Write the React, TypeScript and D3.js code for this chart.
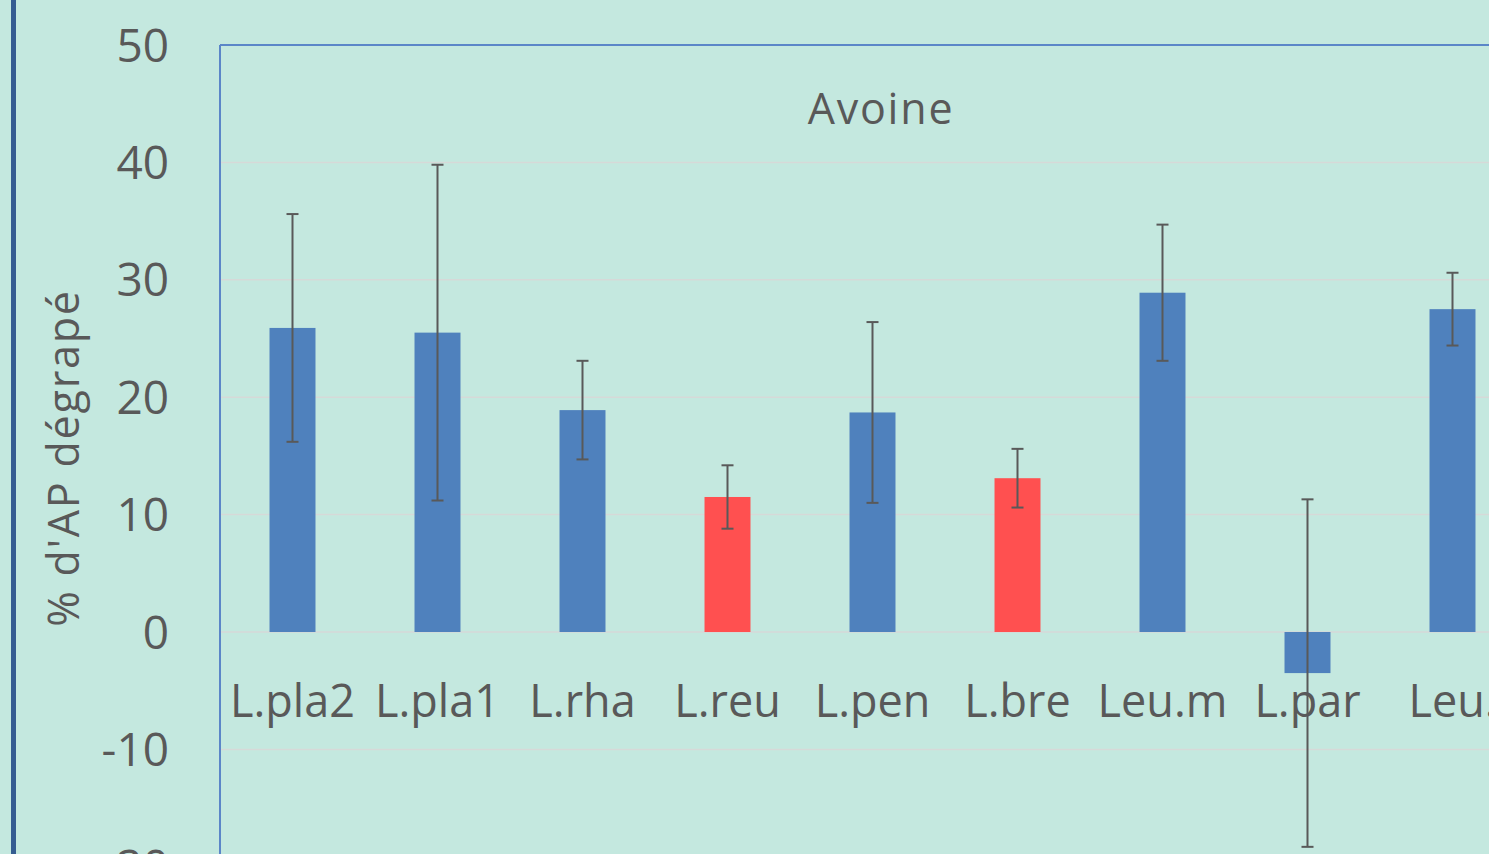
import React from "react";
import * as d3 from "d3";

const categories = ["L.pla2", "L.pla1", "L.rha", "L.reu", "L.pen", "L.bre", "Leu.m", "L.par", "Leu."];
const values = [25.9, 25.5, 18.9, 11.5, 18.7, 13.1, 28.9, -3.5, 27.5];
const errors = [9.7, 14.3, 4.2, 2.7, 7.7, 2.5, 5.8, 14.8, 3.1];
const highlighted = [false, false, false, true, false, true, false, false, false];
const yTicks = [-20, -10, 0, 10, 20, 30, 40, 50];
const chartTitle = "Avoine";
const yAxisTitle = "% d'AP dégrapé";

const W = 1489;
const H = 854;
const BG = "#C4E8DF";
const TEXT = "#595959";
const FONT = "'Open Sans', 'Noto Sans', sans-serif";

export default function App() {
  const plotLeft = 220;
  const plotTop = 45;
  const band = 145;
  const x = d3
    .scaleBand<string>()
    .domain(categories)
    .range([plotLeft, plotLeft + band * categories.length])
    .padding(0);
  const y = d3.scaleLinear().domain([-20, 50]).range([plotTop + 70 * 11.74, plotTop]);
  const barW = x.bandwidth() * 0.317;
  const capW = 12;

  return (
    <svg
      width={W}
      height={H}
      style={{ position: "absolute", left: 0, top: 0, display: "block" }}
      fontFamily={FONT}
    >
      <rect x={0} y={0} width={W} height={H} fill={BG} />
      {/* outer chart frame (left edge visible) */}
      <rect x={11} y={-10} width={5} height={H + 20} fill="#355D91" />

      {/* gridlines */}
      {yTicks.map((t) => (
        <line
          key={"g" + t}
          x1={plotLeft}
          x2={W}
          y1={y(t)}
          y2={y(t)}
          stroke="#D6D9D8"
          strokeWidth={1.5}
        />
      ))}

      {/* plot frame */}
      <line x1={plotLeft} x2={W} y1={plotTop} y2={plotTop} stroke="#5B86C8" strokeWidth={2} />
      <line x1={plotLeft} x2={plotLeft} y1={plotTop} y2={H} stroke="#5B86C8" strokeWidth={2} />

      {/* bars */}
      {categories.map((c, i) => {
        const cx = (x(c) as number) + x.bandwidth() / 2;
        const v = values[i];
        const y0 = y(0);
        const yv = y(v);
        return (
          <rect
            key={"b" + c}
            x={cx - barW / 2}
            y={Math.min(y0, yv)}
            width={barW}
            height={Math.abs(yv - y0)}
            fill={highlighted[i] ? "#FF5050" : "#4F81BD"}
          />
        );
      })}

      {/* category labels */}
      {categories.map((c) => {
        const cx = (x(c) as number) + x.bandwidth() / 2;
        return (
          <text
            key={"l" + c}
            x={cx}
            y={717}
            textAnchor="middle"
            fontSize={45}
            fill={TEXT}
          >
            {c}
          </text>
        );
      })}

      {/* error bars */}
      {categories.map((c, i) => {
        const cx = (x(c) as number) + x.bandwidth() / 2;
        const hi = y(values[i] + errors[i]);
        const lo = y(values[i] - errors[i]);
        return (
          <g key={"e" + c} stroke="#595959" strokeWidth={2}>
            <line x1={cx} x2={cx} y1={hi} y2={lo} />
            <line x1={cx - capW / 2} x2={cx + capW / 2} y1={hi} y2={hi} />
            <line x1={cx - capW / 2} x2={cx + capW / 2} y1={lo} y2={lo} />
          </g>
        );
      })}

      {/* y tick labels */}
      {yTicks.map((t) => (
        <text
          key={"t" + t}
          x={169}
          y={y(t)}
          dy="0.36em"
          textAnchor="end"
          fontSize={46}
          fill={TEXT}
        >
          {t}
        </text>
      ))}

      {/* title */}
      <text
        x={881}
        y={124}
        textAnchor="middle"
        fontSize={43}
        letterSpacing={1.8}
        fill={TEXT}
      >
        {chartTitle}
      </text>

      {/* y axis title */}
      <text
        transform={`translate(79, 458) rotate(-90)`}
        textAnchor="middle"
        fontSize={43}
        letterSpacing={1.8}
        fill={TEXT}
      >
        {yAxisTitle}
      </text>
    </svg>
  );
}
